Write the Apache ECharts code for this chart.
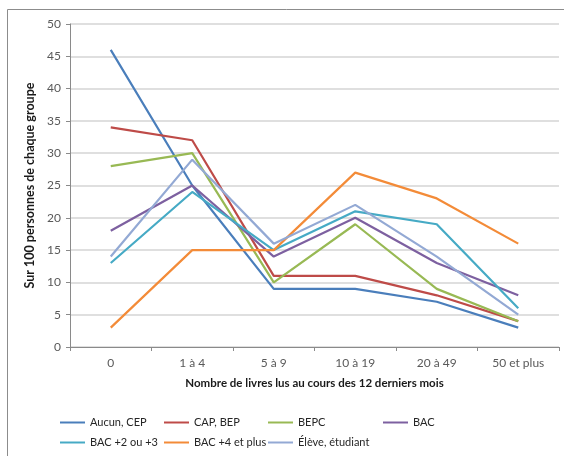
<!DOCTYPE html>
<html><head><meta charset="utf-8">
<script src="https://cdn.jsdelivr.net/npm/echarts@6/dist/echarts.min.js"></script>
<style>html,body{margin:0;padding:0;background:#fff}#c{width:564px;height:456px}</style>
</head><body><div id="c"></div>
<script>
var categories = ['0', '1 à 4', '5 à 9', '10 à 19', '20 à 49', '50 et plus'];
var seriesNames = ['Aucun, CEP', 'CAP, BEP', 'BEPC', 'BAC', 'BAC +2 ou +3', 'BAC +4 et plus', 'Élève, étudiant'];
var aucunCEP = [46, 25, 9, 9, 7, 3];
var capBEP = [34, 32, 11, 11, 8, 4];
var bepc = [28, 30, 10, 19, 9, 4];
var bac = [18, 25, 14, 20, 13, 8];
var bac2ou3 = [13, 24, 15, 21, 19, 6];
var bac4plus = [3, 15, 15, 27, 23, 16];
var eleveEtudiant = [14, 29, 16, 22, 14, 5];
var yTicks = [0, 5, 10, 15, 20, 25, 30, 35, 40, 45, 50];
var yAxisTitle = 'Sur 100 personnes de chaque groupe';
var xAxisTitle = 'Nombre de livres lus au cours des 12 derniers mois';

var seriesData = [aucunCEP, capBEP, bepc, bac, bac2ou3, bac4plus, eleveEtudiant];
var colors = ['#4A7EBB', '#BE4B48', '#98B954', '#7D60A0', '#46AAC5', '#F38B38', '#93A9D4'];
var font = 'Lato, "Liberation Sans", sans-serif';

var legendPos = [[60, 417], [164, 417], [268, 417], [383, 417], [60, 437], [164, 437], [268, 437]];
var legends = seriesNames.map(function (n, i) {
  return {
    data: [n], left: legendPos[i][0], top: legendPos[i][1],
    icon: 'rect', itemWidth: 25, itemHeight: 2, padding: 0,
    textStyle: { fontFamily: font, fontSize: 11, color: '#262626' },
    selectedMode: false
  };
});

var chart = echarts.init(document.getElementById('c'), null, { renderer: 'canvas' });
chart.setOption({
  animation: false,
  color: colors,
  graphic: [{ type: 'rect', shape: { x: 7.5, y: 9.5, width: 620, height: 520 }, style: { fill: 'none', stroke: '#8c8c8c', lineWidth: 1 }, silent: true }],
  legend: legends,
  grid: { left: 70, right: 5, top: 24, bottom: 109 },
  xAxis: {
    type: 'category', data: categories, boundaryGap: true,
    name: xAxisTitle, nameLocation: 'middle', nameGap: 30,
    nameTextStyle: { fontFamily: font, fontSize: 11.5, fontWeight: 'bold', color: '#1a1a1a' },
    axisLine: { lineStyle: { color: '#8a8a8a', width: 1 } },
    axisTick: { show: true, length: 4, lineStyle: { color: '#8a8a8a' }, alignWithLabel: false },
    axisLabel: { fontFamily: font, fontSize: 12, color: '#595959', margin: 10 }
  },
  yAxis: {
    type: 'value', min: yTicks[0], max: yTicks[yTicks.length - 1], interval: 5,
    name: yAxisTitle, nameLocation: 'middle', nameGap: 29, nameRotate: 90,
    nameTextStyle: { fontFamily: font, fontSize: 12.5, fontWeight: 'bold', color: '#1a1a1a' },
    axisLine: { show: true, lineStyle: { color: '#8a8a8a', width: 1 } },
    axisTick: { show: true, length: 4, lineStyle: { color: '#8a8a8a' } },
    axisLabel: { fontFamily: font, fontSize: 12, color: '#595959', margin: 9 },
    splitLine: { lineStyle: { color: '#d4d4d4', width: 1.5 } }
  },
  series: seriesNames.map(function (n, i) {
    return {
      name: n, type: 'line', data: seriesData[i], symbol: 'none', showSymbol: false,
      lineStyle: { width: 2.2, color: colors[i] }, itemStyle: { color: colors[i] }
    };
  })
});
</script></body></html>
